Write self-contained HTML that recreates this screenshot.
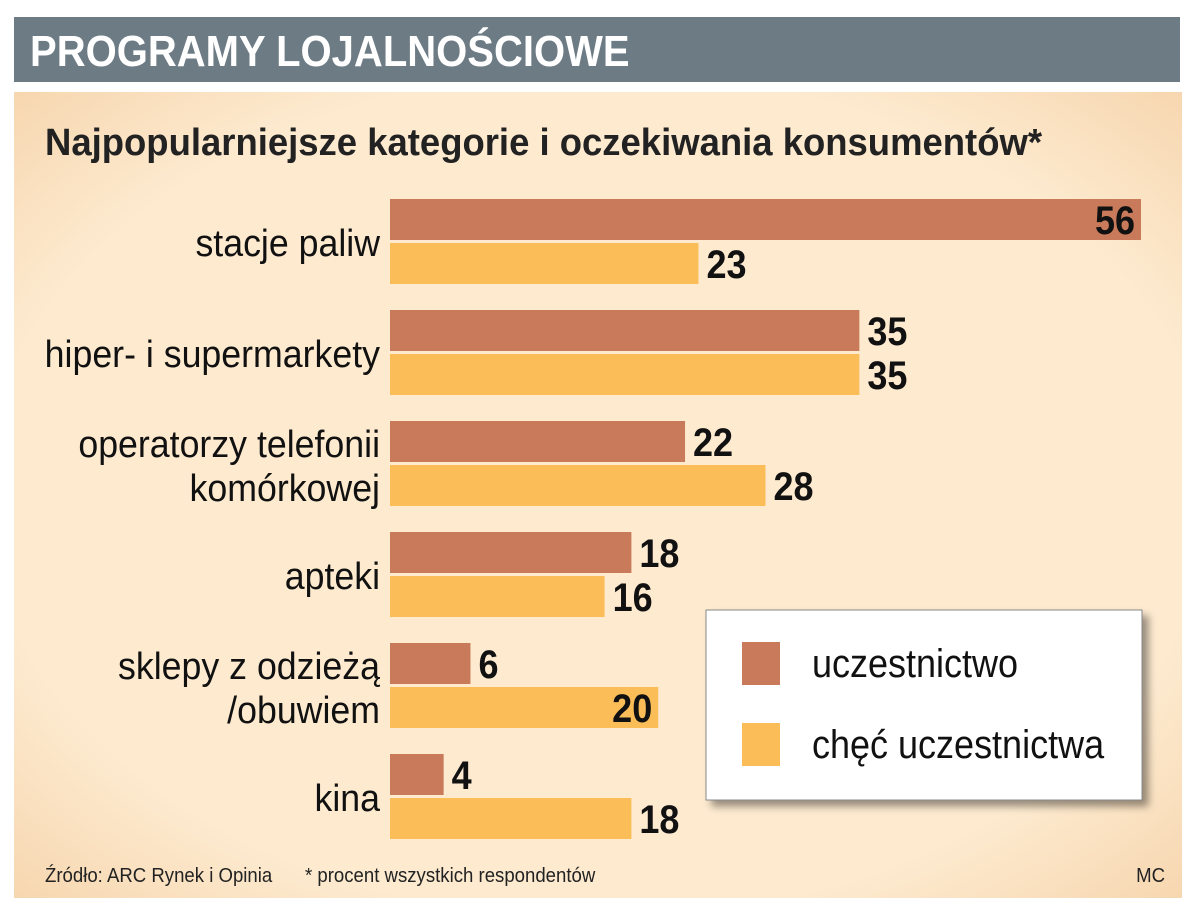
<!DOCTYPE html>
<html><head><meta charset="utf-8"><style>
body{margin:0;background:#fff;width:1200px;height:916px;overflow:hidden}
svg text{font-family:"Liberation Sans",sans-serif}
</style></head><body>
<svg width="1200" height="916">
<defs>
<radialGradient id="bg" cx="50%" cy="50%" r="75%"><stop offset="70%" stop-color="#fdeacf"/><stop offset="100%" stop-color="#f5d2a8"/></radialGradient>
<filter id="sh"><feDropShadow dx="6" dy="6" stdDeviation="4" flood-color="#000" flood-opacity="0.4"/></filter>
</defs>
<rect x="14" y="17" width="1166" height="65" fill="#6d7b85"/>
<text transform="translate(30,66) scale(0.91,1)" font-size="44" font-weight="bold" fill="#fff">PROGRAMY LOJALNOŚCIOWE</text>
<rect x="14" y="92" width="1168" height="806" fill="url(#bg)"/>
<text transform="translate(45,155) scale(0.96,1)" font-size="38" font-weight="bold" fill="#222">Najpopularniejsze kategorie i oczekiwania konsumentów*</text>
<g id="bars"></g>
<g>
<rect x="706" y="610" width="436" height="190" fill="#fff" stroke="#888" filter="url(#sh)"/>
<rect x="742" y="642" width="38" height="43" fill="#c97a5a"/>
<text transform="translate(812,677) scale(0.9,1)" font-size="40" fill="#111">uczestnictwo</text>
<rect x="742" y="723" width="38" height="43" fill="#fbbd57"/>
<text transform="translate(812,758) scale(0.9,1)" font-size="40" fill="#111">chęć uczestnictwa</text>
</g>
<text transform="translate(45,882) scale(0.93,1)" font-size="20" fill="#222">Źródło: ARC Rynek i Opinia</text>
<text transform="translate(305,882) scale(0.93,1)" font-size="20" fill="#222">* procent wszystkich respondentów</text>
<text transform="translate(1165,882) scale(0.93,1)" font-size="20" fill="#222" text-anchor="end">MC</text>
</svg>
<script>
const categories=[["stacje paliw"],["hiper- i supermarkety"],["operatorzy telefonii","komórkowej"],["apteki"],["sklepy z odzieżą","/obuwiem"],["kina"]];
const uczestnictwo=[56,35,22,18,6,4];
const checUczestnictwa=[23,35,28,16,20,18];
const x0=390, xScale=v=>x0+v*(751/56);
const yGroup=i=>199+i*111;
const g=document.getElementById('bars');
const NS='http://www.w3.org/2000/svg';
function txt(str,x,y,size,anchor,weight,name,sx){
  const t=document.createElementNS(NS,'text');
  
  
  t.setAttribute('transform',`translate(${x},${y}) scale(${sx},1)`);
  t.setAttribute('font-size',size);t.setAttribute('text-anchor',anchor);
  if(weight)t.setAttribute('font-weight',weight);
  t.setAttribute('fill','#111');t.textContent=str;g.appendChild(t);
}
categories.forEach((lines,i)=>{
  const y=yGroup(i);
  [[uczestnictwo[i],'#c97a5a',y,'bar-uczestnictwo'],[checUczestnictwa[i],'#fbbd57',y+44,'bar-chec']].forEach(([v,c,yy,nm])=>{
    const r=document.createElementNS(NS,'rect');
    
    
    const xe=xScale(v);
    r.setAttribute('x',x0);r.setAttribute('y',yy);r.setAttribute('width',xe-x0);r.setAttribute('height',41);r.setAttribute('fill',c);
    g.appendChild(r);
    const w=v>=10?44:22;
    if(xe+8+w>1150 || (v==20&&nm=='bar-chec')) txt(String(v),xe-6,yy+35,40,'end','bold','value-label',0.9);
    else txt(String(v),xe+8,yy+35,40,'start','bold','value-label',0.9);
  });
  if(lines.length==1) txt(lines[0],380,y+57,38,'end',null,'category-label',0.94);
  else {txt(lines[0],380,y+36,38,'end',null,'category-label',0.94);txt(lines[1],380,y+80,38,'end',null,'category-label',0.94);}
});
</script>
</body></html>
